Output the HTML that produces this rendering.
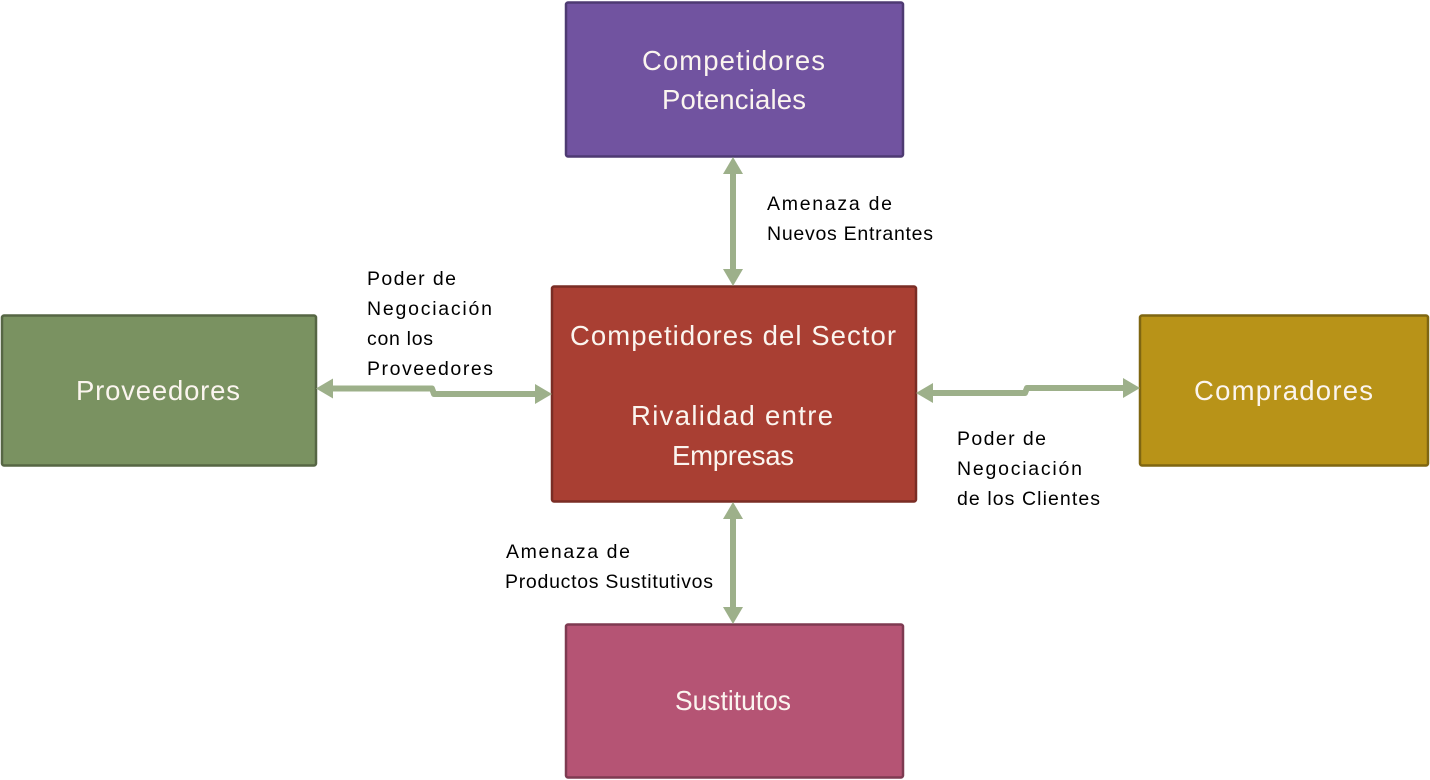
<!DOCTYPE html>
<html><head><meta charset="utf-8"><style>
html,body{margin:0;padding:0;background:#fff;}
svg{display:block;}
text{font-family:"Liberation Sans",sans-serif;}
.big{font-size:27.5px;fill:#fbf5ef;}
.sm{font-size:19.5px;fill:#000;}
</style></head><body>
<svg width="1430" height="780" viewBox="0 0 1430 780" xmlns="http://www.w3.org/2000/svg">
<rect width="1430" height="780" fill="#fff"/>
<!-- boxes -->
<rect x="566" y="2.5" width="337" height="154" rx="2" fill="#7153A0" stroke="#4E3A72" stroke-width="2.5"/>
<rect x="552" y="286.5" width="364" height="215" rx="2" fill="#A93F33" stroke="#7A2D25" stroke-width="2.5"/>
<rect x="2" y="315.5" width="314" height="150" rx="2" fill="#7A9261" stroke="#566644" stroke-width="2.5"/>
<rect x="1140" y="315.5" width="288" height="150" rx="2" fill="#B89318" stroke="#7F6611" stroke-width="2.5"/>
<rect x="566" y="624.5" width="337" height="153" rx="2" fill="#B55474" stroke="#7E3A51" stroke-width="2.5"/>

<!-- arrows -->
<g fill="#9DB08A" stroke="none">
  <rect x="730" y="172" width="6" height="100"/>
  <polygon points="733,157 743,174 723,174"/>
  <polygon points="733,286 743,269 723,269"/>
  <rect x="730" y="517" width="6" height="93"/>
  <polygon points="733,502 743,519 723,519"/>
  <polygon points="733,624 743,607 723,607"/>
</g>
<g fill="none" stroke="#9DB08A" stroke-width="6" stroke-linejoin="round">
  <polyline points="330,388.5 432,388.5 434,394 538,394"/>
  <polyline points="930,393 1025,393 1027,388 1126,388"/>
</g>
<g fill="#9DB08A">
  <polygon points="316,388.5 333,378.5 333,398.5"/>
  <polygon points="552,394 535,384 535,404"/>
  <polygon points="916,393 933,383 933,403"/>
  <polygon points="1140,388 1123,378 1123,398"/>
</g>

<!-- box labels -->
<text class="big" x="642" y="70" textLength="183" lengthAdjust="spacing">Competidores</text>
<text class="big" x="662" y="109" textLength="144" lengthAdjust="spacing">Potenciales</text>
<text class="big" x="570" y="345" textLength="326" lengthAdjust="spacing">Competidores del Sector</text>
<text class="big" x="631" y="425" textLength="202" lengthAdjust="spacing">Rivalidad entre</text>
<text class="big" x="672" y="465" textLength="122" lengthAdjust="spacing">Empresas</text>
<text class="big" x="76" y="400" textLength="164" lengthAdjust="spacing">Proveedores</text>
<text class="big" x="1194" y="400" textLength="179" lengthAdjust="spacing">Compradores</text>
<text class="big" x="675" y="710" textLength="116" lengthAdjust="spacingAndGlyphs">Sustitutos</text>

<!-- small labels -->
<text class="sm" x="767" y="210" textLength="125" lengthAdjust="spacing">Amenaza de</text>
<text class="sm" x="767" y="240" textLength="166" lengthAdjust="spacing">Nuevos Entrantes</text>

<text class="sm" x="367" y="285" textLength="89" lengthAdjust="spacing">Poder de</text>
<text class="sm" x="367" y="315" textLength="125" lengthAdjust="spacing">Negociación</text>
<text class="sm" x="367" y="345" textLength="66" lengthAdjust="spacing">con los</text>
<text class="sm" x="367" y="375" textLength="126" lengthAdjust="spacing">Proveedores</text>

<text class="sm" x="957" y="445" textLength="89" lengthAdjust="spacing">Poder de</text>
<text class="sm" x="957" y="475" textLength="125" lengthAdjust="spacing">Negociación</text>
<text class="sm" x="957" y="505" textLength="143" lengthAdjust="spacing">de los Clientes</text>

<text class="sm" x="506" y="558" textLength="124" lengthAdjust="spacing">Amenaza de</text>
<text class="sm" x="505" y="588" textLength="208" lengthAdjust="spacing">Productos Sustitutivos</text>
</svg>
</body></html>
